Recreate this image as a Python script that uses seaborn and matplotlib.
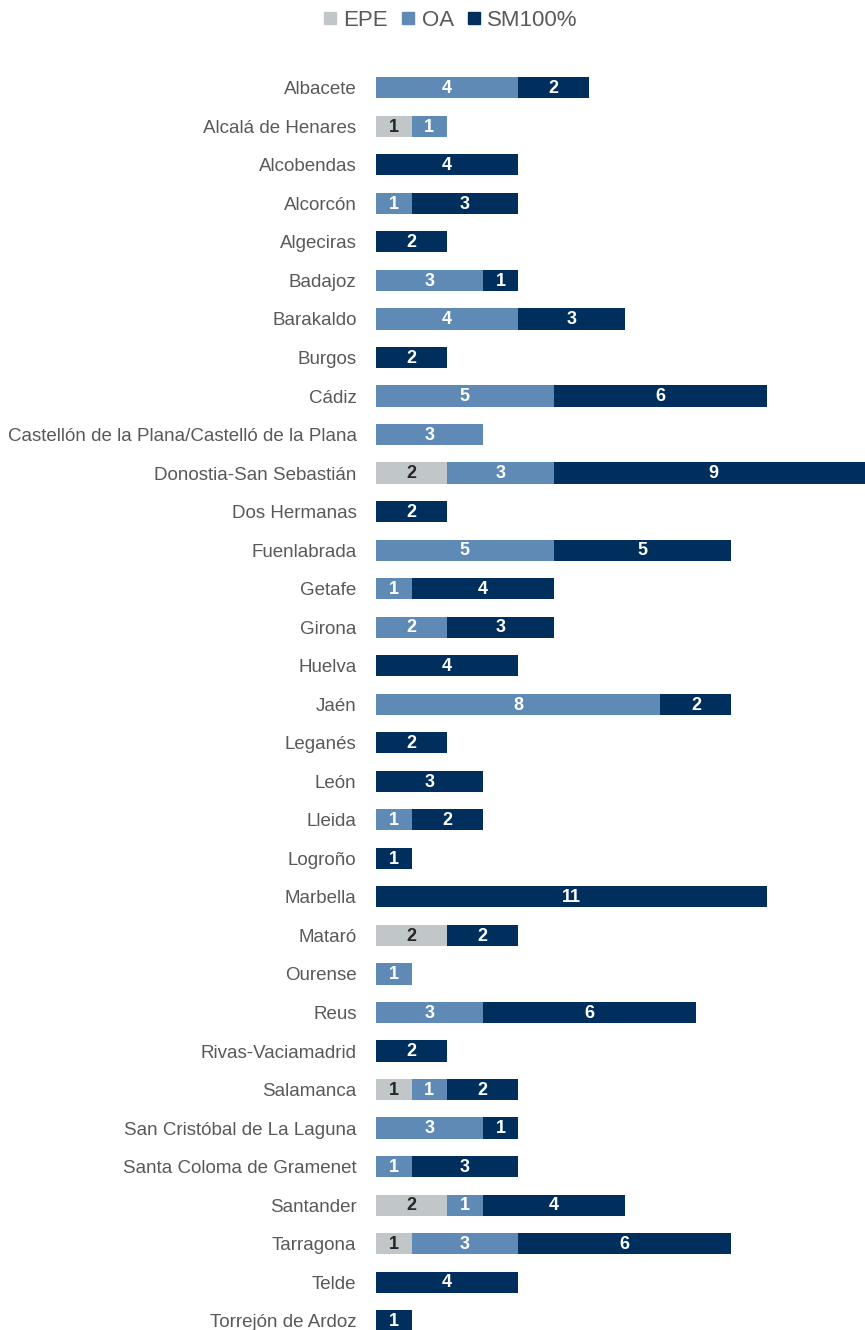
import matplotlib
matplotlib.use("Agg")
import matplotlib.pyplot as plt
from matplotlib.lines import Line2D
import seaborn as sns
import pandas as pd
import numpy as np

cities = ["Albacete", "Alcalá de Henares", "Alcobendas", "Alcorcón", "Algeciras",
          "Badajoz", "Barakaldo", "Burgos", "Cádiz",
          "Castellón de la Plana/Castelló de la Plana", "Donostia-San Sebastián",
          "Dos Hermanas", "Fuenlabrada", "Getafe", "Girona", "Huelva", "Jaén",
          "Leganés", "León", "Lleida", "Logroño", "Marbella", "Mataró", "Ourense",
          "Reus", "Rivas-Vaciamadrid", "Salamanca", "San Cristóbal de La Laguna",
          "Santa Coloma de Gramenet", "Santander", "Tarragona", "Telde",
          "Torrejón de Ardoz"]
epe = [0, 1, 0, 0, 0, 0, 0, 0, 0, 0, 2, 0, 0, 0, 0, 0, 0, 0, 0, 0, 0, 0, 2, 0,
       0, 0, 1, 0, 0, 2, 1, 0, 0]
oa = [4, 1, 0, 1, 0, 3, 4, 0, 5, 3, 3, 0, 5, 1, 2, 0, 8, 0, 0, 1, 0, 0, 0, 1,
      3, 0, 1, 3, 1, 1, 3, 0, 0]
sm = [2, 0, 4, 3, 2, 1, 3, 2, 6, 0, 9, 2, 5, 4, 3, 4, 2, 2, 3, 2, 1, 11, 2, 0,
      6, 2, 2, 1, 3, 4, 6, 4, 1]

series = ["EPE", "OA", "SM100%"]
colors = {"EPE": "#C1C6C9", "OA": "#5F8AB6", "SM100%": "#002F5E"}
label_colors = {"EPE": "#262626", "OA": "white", "SM100%": "white"}

df = pd.DataFrame({"city": cities, "EPE": epe, "OA": oa, "SM100%": sm})
df["c1"] = df["EPE"]
df["c2"] = df["EPE"] + df["OA"]
df["c3"] = df["c2"] + df["SM100%"]

sns.set_theme(style="white")
plt.rcParams["font.family"] = ["Liberation Sans", "DejaVu Sans"]

W, H = 865, 1330
fig = plt.figure(figsize=(W / 100, H / 100), dpi=100)
ax_left = 376 / W
ax_top = 60
ax = fig.add_axes([ax_left, 0, 1 - ax_left, (H - ax_top) / H])

bh = 0.55
for col, name in [("c3", "SM100%"), ("c2", "OA"), ("c1", "EPE")]:
    sns.barplot(data=df, y="city", x=col, orient="h", color=colors[name],
                saturation=1, width=bh, ax=ax, errorbar=None, linewidth=0)

# segment labels
lowers = {"EPE": np.zeros(len(df)), "OA": df["c1"].values, "SM100%": df["c2"].values}
for name in series:
    vals = df[name].values
    for i, v in enumerate(vals):
        if v > 0:
            ax.text(lowers[name][i] + v / 2, i + 0.02, str(v), ha="center", va="center",
                    color=label_colors[name], fontsize=13, fontweight="bold",
                    family=["Liberation Sans Narrow", "Liberation Sans", "DejaVu Sans"])

unit = 35.545
ax.set_xlim(0, (W - 376) / unit)
ax.set_ylim((H - 87) / 38.53 - 0.02, -(87 - ax_top) / 38.53 - 0.02)
ax.set_xlabel("")
ax.set_ylabel("")
ax.set_xticks([])
for s in ax.spines.values():
    s.set_visible(False)
ax.tick_params(axis="y", length=0, pad=14, labelsize=13.5, labelcolor="#595959")

handles = [Line2D([0], [0], marker="s", linestyle="", markersize=8,
                  markerfacecolor=colors[n], markeredgecolor=colors[n]) for n in series]
fig.legend(handles, series, loc="center", bbox_to_anchor=(450 / W, 1 - 20 / H),
           ncol=3, frameon=False, fontsize=16, labelcolor="#595959",
           handletextpad=0.25, columnspacing=0.55, handlelength=0.7)

fig.savefig("out.png", dpi=100)
